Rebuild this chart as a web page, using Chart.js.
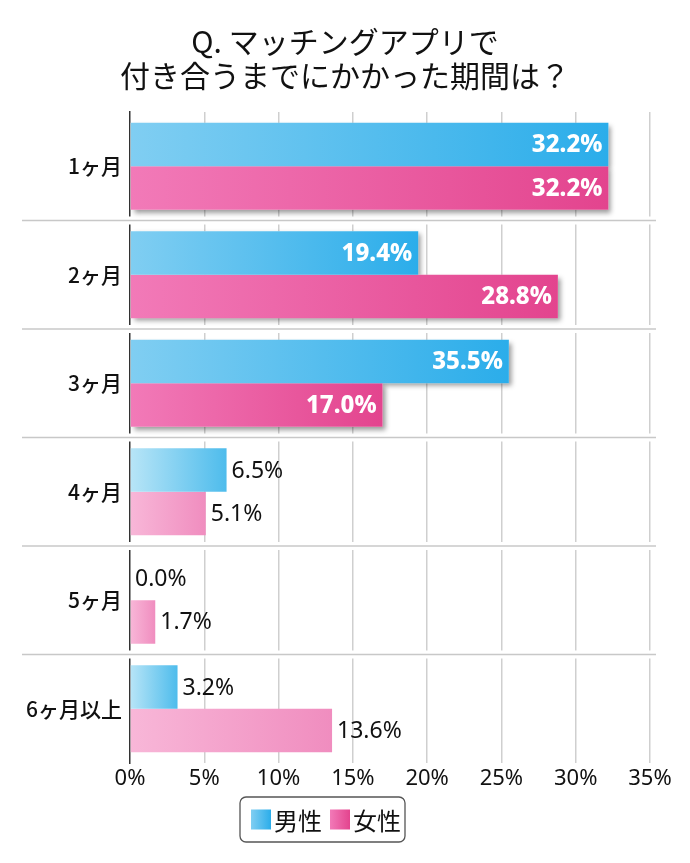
<!DOCTYPE html>
<html lang="ja">
<head>
<meta charset="utf-8">
<title>マッチングアプリで付き合うまでにかかった期間</title>
<script src="https://cdn.jsdelivr.net/npm/chart.js@4.4.1/dist/chart.umd.min.js"></script>
<style>
	html, body { margin: 0; padding: 0; background: #fff; }
	#chart { display: block; }
</style>
</head>
<body>
<canvas id="chart" width="690" height="863"></canvas>
<script>
	// data
	const titleLines = ['Q. マッチングアプリで', '付き合うまでにかかった期間は？'];
	const categories = ['1ヶ月', '2ヶ月', '3ヶ月', '4ヶ月', '5ヶ月', '6ヶ月以上'];
	const seriesNames = ['男性', '女性'];
	// bar lengths as drawn (the 3ヶ月 male bar is drawn at ~25.5 although printed 35.5%)
	const maleValues = [32.2, 19.4, 25.5, 6.5, 0.0, 3.2];
	const femaleValues = [32.2, 28.8, 17.0, 5.1, 1.7, 13.6];
	// printed value labels
	const maleLabels = ['32.2%', '19.4%', '35.5%', '6.5%', '0.0%', '3.2%'];
	const femaleLabels = ['32.2%', '28.8%', '17.0%', '5.1%', '1.7%', '13.6%'];
	const xTicks = [0, 5, 10, 15, 20, 25, 30, 35];

	const JP = '"Noto Sans CJK JP", "Noto Sans", sans-serif';
	const LAT = '"Noto Sans", "DejaVu Sans", sans-serif';
	const STRONG_COUNT = 3;

	const colors = {
		male: { strong: ['#80cef2', '#2badea'], light: ['#b8e5f7', '#4ebcec'] },
		female: { strong: ['#f27ab8', '#e3448e'], light: ['#f8b7d8', '#f08dbf'] }
	};

	function barFill(key) {
		return (ctx) => {
			const set = ctx.dataIndex < STRONG_COUNT ? colors[key].strong : colors[key].light;
			const xs = ctx.chart.scales.x;
			if (!xs || typeof ctx.raw !== 'number') return set[1];
			const x0 = xs.getPixelForValue(0);
			const x1 = xs.getPixelForValue(Math.max(ctx.raw, 0.2));
			if (!isFinite(x0) || !isFinite(x1) || x1 - x0 < 0.5) return set[1];
			const g = ctx.chart.ctx.createLinearGradient(x0, 0, x1, 0);
			g.addColorStop(0, set[0]);
			g.addColorStop(1, set[1]);
			return g;
		};
	}

	// title, gaps + separator lines between categories, shadows, value labels, boxed legend
	const rowPlugin = {
		id: 'rows',
		beforeDatasetsDraw(chart) {
			const { ctx, chartArea: a, scales: { y } } = chart;
			ctx.save();
			for (let i = 1; i < categories.length; i++) {
				const sy = (y.getPixelForValue(i - 1) + y.getPixelForValue(i)) / 2;
				ctx.fillStyle = '#fff';
				ctx.fillRect(a.left - 3, sy - 4, a.right - a.left + 10, 8);
				ctx.strokeStyle = '#c8c8c8';
				ctx.lineWidth = 1.3;
				ctx.beginPath();
				ctx.moveTo(22, sy);
				ctx.lineTo(a.right + 6, sy);
				ctx.stroke();
			}
			chart.data.datasets.forEach((ds, di) => {
				chart.getDatasetMeta(di).data.forEach((el, i) => {
					if (i >= STRONG_COUNT) return;
					const p = el.getProps(['x', 'y', 'base', 'height'], true);
					ctx.save();
					ctx.shadowColor = 'rgba(0,0,0,0.4)';
					ctx.shadowBlur = 5;
					ctx.shadowOffsetX = 3;
					ctx.shadowOffsetY = 3;
					ctx.fillStyle = '#fff';
					ctx.fillRect(p.base, p.y - p.height / 2, p.x - p.base, p.height);
					ctx.restore();
				});
			});
			ctx.restore();
		},
		afterDatasetsDraw(chart) {
			const { ctx } = chart;
			const texts = [maleLabels, femaleLabels];
			ctx.save();
			ctx.textBaseline = 'middle';
			chart.data.datasets.forEach((ds, di) => {
				chart.getDatasetMeta(di).data.forEach((el, i) => {
					const p = el.getProps(['x', 'y'], true);
					if (i < STRONG_COUNT) {
						ctx.font = '800 24px ' + LAT;
						ctx.fillStyle = '#fff';
						ctx.textAlign = 'right';
						ctx.fillText(texts[di][i], p.x - 6, p.y + 1);
					} else {
						ctx.font = '23px ' + LAT;
						ctx.fillStyle = '#111';
						ctx.textAlign = 'left';
						ctx.fillText(texts[di][i], p.x + 5, p.y + 1);
					}
				});
			});
			ctx.restore();
		},
		afterDraw(chart) {
			const { ctx } = chart;
			ctx.save();
			// title, centred on the canvas
			ctx.font = '30px ' + JP;
			ctx.fillStyle = '#111';
			ctx.textAlign = 'center';
			ctx.textBaseline = 'middle';
			titleLines.forEach((t, i) => ctx.fillText(t, chart.width / 2, 42 + i * 34));

			// boxed legend under the axis
			const top = 797, h = 45, left = 240;
			ctx.font = '24px ' + JP;
			ctx.textAlign = 'left';
			let x = left + 11;
			const cy = top + h / 2;
			const keys = ['male', 'female'];
			seriesNames.forEach((name, i) => {
				const c = colors[keys[i]].strong;
				const g = ctx.createLinearGradient(x, 0, x + 20, 0);
				g.addColorStop(0, c[0]);
				g.addColorStop(1, c[1]);
				ctx.fillStyle = g;
				ctx.fillRect(x, cy - 10, 20, 20);
				x += 23;
				ctx.fillStyle = '#111';
				ctx.fillText(name, x, cy + 1);
				x += ctx.measureText(name).width + 8;
			});
			const w = x - 8 + 4 - left;
			ctx.strokeStyle = '#555';
			ctx.lineWidth = 1.3;
			ctx.beginPath();
			ctx.roundRect(left, top, w, h, 6);
			ctx.stroke();
			ctx.restore();
		}
	};

	new Chart(document.getElementById('chart'), {
		type: 'bar',
		data: {
			labels: categories,
			datasets: [
				{ label: seriesNames[0], data: maleValues, backgroundColor: barFill('male') },
				{ label: seriesNames[1], data: femaleValues, backgroundColor: barFill('female') }
			]
		},
		options: {
			indexAxis: 'y',
			responsive: false,
			animation: false,
			layout: { padding: { left: 0, right: 40, top: 112, bottom: 0 } },
			datasets: { bar: { categoryPercentage: 0.8, barPercentage: 1.0 } },
			scales: {
				x: {
					min: 0,
					max: 35,
					afterBuildTicks(scale) { scale.ticks = xTicks.map(v => ({ value: v })); },
					afterFit(scale) { scale.height = 100; },
					grid: {
						drawTicks: false,
						color: (c) => c.index === 0 ? 'rgba(0,0,0,0)' : '#cfcfcf',
						lineWidth: 1.5
					},
					border: { display: false },
					ticks: {
						padding: 3,
						color: '#111',
						font: { family: LAT, size: 22 },
						callback: (v) => v + '%'
					}
				},
				y: {
					afterFit(scale) { scale.width = 130; },
					grid: { display: false, drawTicks: false },
					border: { display: true, color: '#333', width: 1.5 },
					ticks: {
						padding: 8,
						color: '#111',
						font: { family: JP, size: 21, weight: '500' }
					}
				}
			},
			plugins: {
				legend: { display: false },
				tooltip: { enabled: false },
				title: { display: false }
			}
		},
		plugins: [rowPlugin]
	});
</script>
</body>
</html>
